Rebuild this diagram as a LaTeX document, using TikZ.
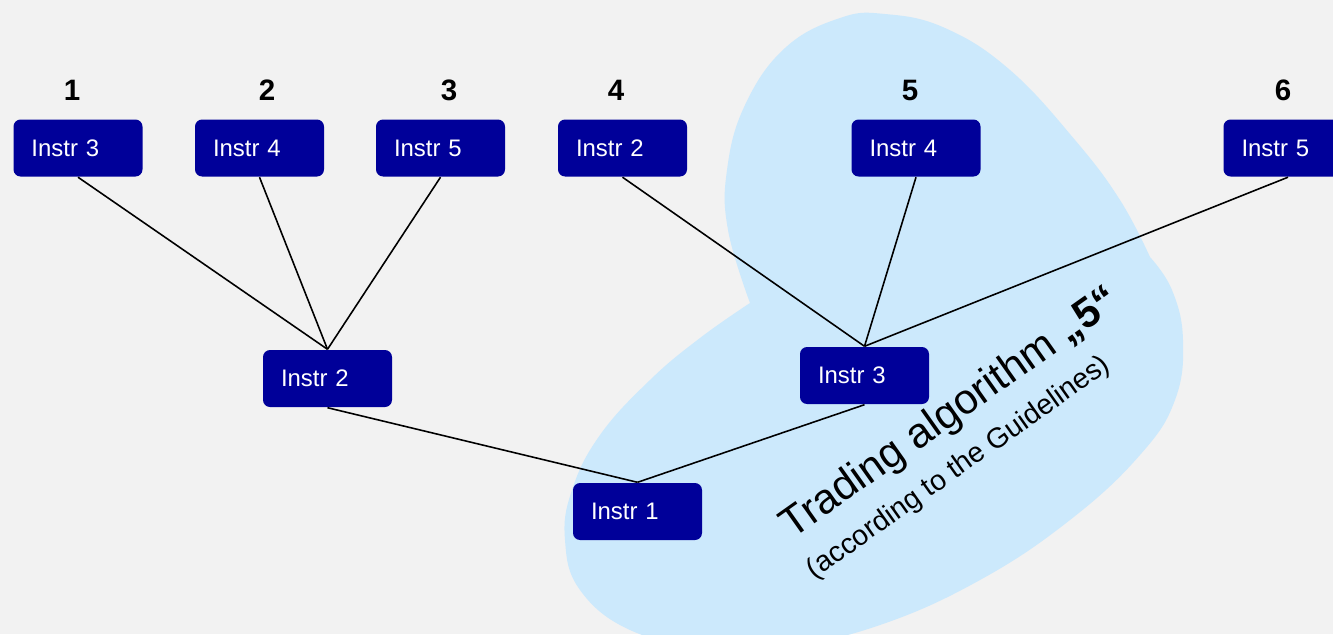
\documentclass[tikz,border=0pt]{standalone}
\usepackage{xcolor}
\usepackage{tikz}
\usepackage{fontspec}
\setmainfont{Liberation Sans}
\definecolor{instrblue}{RGB}{0, 0, 153}
\definecolor{bgray}{RGB}{242, 242, 242}
\definecolor{blobblue}{RGB}{204, 233, 252}
\usetikzlibrary{shapes, positioning, calc}

\begin{document}
\begin{tikzpicture}[
    instr/.style={rectangle, fill=instrblue, rounded corners=2pt, text=white, minimum width=1.29cm, minimum height=0.57cm, text width=0.93cm, inner xsep=0.18cm, align=left, font=\fontsize{6.8}{8}\selectfont},
    num/.style={font=\fontsize{8.4}{10}\selectfont\bfseries},
    link/.style={draw=black, line width=0.45pt}
]
    \fill[bgray] (0, 0) rectangle (13.33, 6.34);
    \useasboundingbox (0, 0) rectangle (13.33, 6.34);

    % trading area
    \fill[blobblue] plot[smooth, tension=0.7] coordinates {(7.50,3.31) (7.28,4.04) (7.27,4.64) (7.45,5.29) (7.85,5.86) (8.40,6.16) (8.85,6.20) (9.45,6.06) (10.10,5.64) (10.75,4.94) (11.20,4.34) (11.50,3.77)}
        -- plot[smooth, tension=0.7] coordinates {(11.50,3.77) (11.72,3.44) (11.83,2.94) (11.75,2.34) (11.40,1.79) (10.70,1.14) (9.80,0.54) (8.80,0.09) (7.90,-0.11) (7.00,-0.11) (6.30,0.04) (5.80,0.44) (5.65,0.94) (5.72,1.44) (6.00,1.99) (6.50,2.54) (7.00,2.96) (7.50,3.31)} -- cycle;

    \node[num] (n1) at (0.72, 5.44) {1};
    \node[num] (n2) at (2.67, 5.44) {2};
    \node[num] (n3) at (4.49, 5.44) {3};
    \node[num] (n4) at (6.16, 5.44) {4};
    \node[num] (n5) at (9.10, 5.44) {5};
    \node[num] (n6) at (12.83, 5.44) {6};

    \node[instr] (top1) at (0.78, 4.86) {Instr 3};
    \node[instr] (top2) at (2.595, 4.86) {Instr 4};
    \node[instr] (top3) at (4.405, 4.86) {Instr 5};
    \node[instr] (top4) at (6.225, 4.86) {Instr 2};
    \node[instr] (top5) at (9.16, 4.86) {Instr 4};
    \node[instr] (top6) at (12.88, 4.86) {Instr 5};

    \node[instr] (mid1) at (3.275, 2.555) {Instr 2};
    \node[instr] (mid2) at (8.645, 2.585) {Instr 3};
    \node[instr] (root) at (6.375, 1.225) {Instr 1};

    \draw[link] (top1.south) -- (mid1.north);
    \draw[link] (top2.south) -- (mid1.north);
    \draw[link] (top3.south) -- (mid1.north);
    \draw[link] (top4.south) -- (mid2.north);
    \draw[link] (top5.south) -- (mid2.north);
    \draw[link] (top6.south) -- (mid2.north);
    \draw[link] (mid1.south) -- (root.north);
    \draw[link] (mid2.south) -- (root.north);

    \node[rotate=35.3, font=\fontsize{12}{14}\selectfont] (algo) at (9.51, 2.20) {Trading algorithm \textbf{„5“}};
    \node[rotate=35.3, font=\fontsize{8.1}{10}\selectfont] (guide) at (9.59, 1.66) {(according to the Guidelines)};
\end{tikzpicture}
\end{document}
